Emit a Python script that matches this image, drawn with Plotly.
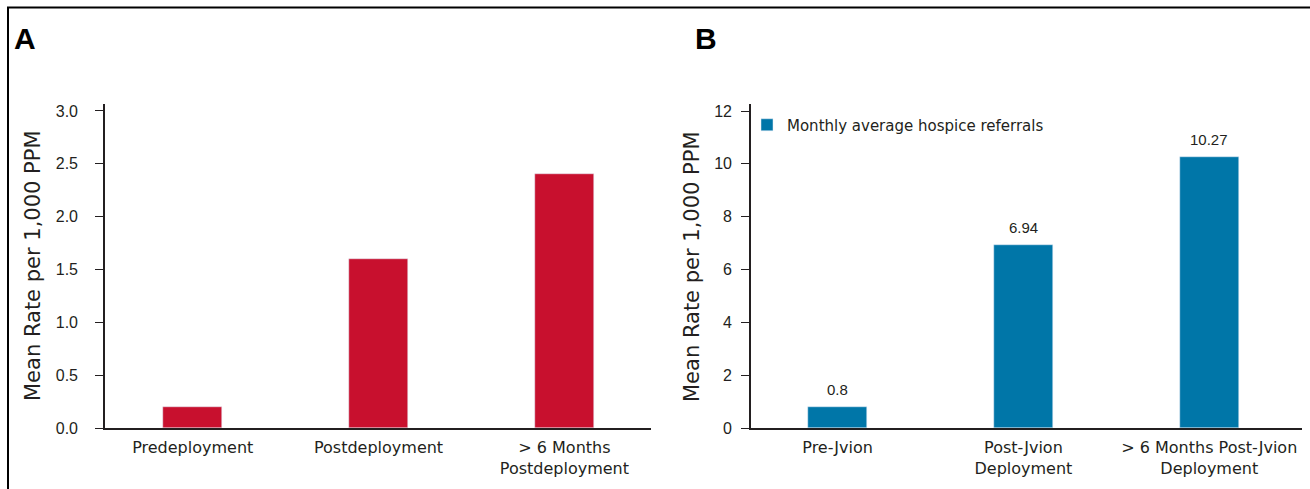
import plotly.graph_objects as go

W, H = 1310, 489

# ---- data ----
cats_a = ["Predeployment", "Postdeployment", "> 6 Months<br>Postdeployment"]
vals_a = [0.2, 1.6, 2.4]
cats_b = ["Pre-Jvion", "Post-Jvion<br>Deployment", "> 6 Months Post-Jvion<br>Deployment"]
vals_b = [0.8, 6.94, 10.27]
labels_b = ["0.8", "6.94", "10.27"]
ticks_a = [0.0, 0.5, 1.0, 1.5, 2.0, 2.5, 3.0]
ticks_b = [0, 2, 4, 6, 8, 10, 12]
ytitle = "Mean Rate per 1,000 PPM"
legend_b = "Monthly average hospice referrals"

RED = "#C8102E"
BLUE = "#0076A8"
INK = "#231F20"
WIDE = "DejaVu Sans"
ARIAL = "Liberation Sans"


def px_x(x):
    return x / W


def px_y(y):
    return 1 - y / H


pos = [0, 1, 2]

fig = go.Figure()
fig.add_trace(go.Bar(x=pos, y=vals_a, marker_color=RED, width=0.318,
                     xaxis="x", yaxis="y", showlegend=False))
fig.add_trace(go.Bar(x=pos, y=vals_b, marker_color=BLUE, width=0.318,
                     xaxis="x2", yaxis="y2", name=legend_b, showlegend=True))

ydom = [px_y(428), px_y(104)]

common_x = dict(showline=True, linecolor=INK, linewidth=1.6, ticks="",
                showgrid=False, zeroline=False, tickvals=pos,
                tickfont=dict(family=WIDE, size=16, color=INK),
                ticklabelstandoff=4, fixedrange=True)
fig.update_layout(
    xaxis=dict(domain=[px_x(105), px_x(651)], range=[-0.472, 2.466],
               ticktext=cats_a, anchor="y", **common_x),
    xaxis2=dict(domain=[px_x(751), px_x(1302)], range=[-0.466, 2.499],
                ticktext=cats_b, anchor="y2", **common_x),
    yaxis=dict(domain=ydom, range=[0, 3.066], tickvals=ticks_a,
               ticktext=[f"{v:.1f}" for v in ticks_a], anchor="x",
               showline=True, linecolor=INK, linewidth=1.6, ticks="outside",
               ticklen=8, tickwidth=1.4, tickcolor=INK, showgrid=False,
               zeroline=False, ticklabelstandoff=14,
               tickfont=dict(family=ARIAL, size=16, color=INK)),
    yaxis2=dict(domain=ydom, range=[0, 12.265], tickvals=ticks_b,
                ticktext=[str(v) for v in ticks_b], anchor="x2",
                showline=True, linecolor=INK, linewidth=1.6, ticks="outside",
                ticklen=8, tickwidth=1.4, tickcolor=INK, showgrid=False,
                zeroline=False, ticklabelstandoff=6,
                tickfont=dict(family=ARIAL, size=16, color=INK)),
    autosize=True,
    margin=dict(l=0, r=0, t=0, b=0, autoexpand=False),
    paper_bgcolor="white", plot_bgcolor="white",
    showlegend=True,
    legend=dict(x=px_x(747), y=px_y(125), xanchor="left", yanchor="middle",
                bgcolor="rgba(0,0,0,0)",
                font=dict(family=WIDE, size=15, color=INK)),
    bargap=0,
)

annotations = []
# panel letters
annotations.append(dict(text="<b>A</b>", x=px_x(25), y=px_y(39), xref="paper", yref="paper",
                        showarrow=False, font=dict(family=ARIAL, size=30, color="black"),
                        xanchor="center", yanchor="middle"))
annotations.append(dict(text="<b>B</b>", x=px_x(706), y=px_y(39), xref="paper", yref="paper",
                        showarrow=False, font=dict(family=ARIAL, size=30, color="black"),
                        xanchor="center", yanchor="middle"))
# axis titles
for xc in (33, 692):
    annotations.append(dict(text=ytitle, x=px_x(xc), y=px_y(266), xref="paper", yref="paper",
                            showarrow=False, textangle=-90,
                            font=dict(family=WIDE, size=21, color=INK),
                            xanchor="center", yanchor="middle"))
# value labels
for p, v, t in zip(pos, vals_b, labels_b):
    annotations.append(dict(text=t, x=p, y=v, xref="x2", yref="y2", showarrow=False,
                            yanchor="bottom", yshift=7,
                            font=dict(family=ARIAL, size=15, color=INK)))
fig.update_layout(annotations=annotations)

# border frame (top and left)
fig.add_shape(type="line", xref="paper", yref="paper", x0=px_x(7), x1=1.0,
              y0=px_y(7.5), y1=px_y(7.5), line=dict(color="black", width=2))
fig.add_shape(type="line", xref="paper", yref="paper", x0=px_x(8), x1=px_x(8),
              y0=px_y(7.5), y1=0, line=dict(color="black", width=2))

post = (
    "document.documentElement.style.margin='0';"
    "document.documentElement.style.overflow='hidden';"
    "document.body.style.margin='0';"
    "document.body.style.overflow='hidden';"
    "var d=document.getElementById('{plot_id}');"
    "d.style.position='fixed';d.style.top='0px';d.style.left='0px';"
    "d.style.width='100vw';d.style.height='100vh';"
    "Plotly.Plots.resize(d);"
)
fig.write_html("out.html", config={"displayModeBar": False, "responsive": True},
               default_width="100vw", default_height="100vh", post_script=post)
